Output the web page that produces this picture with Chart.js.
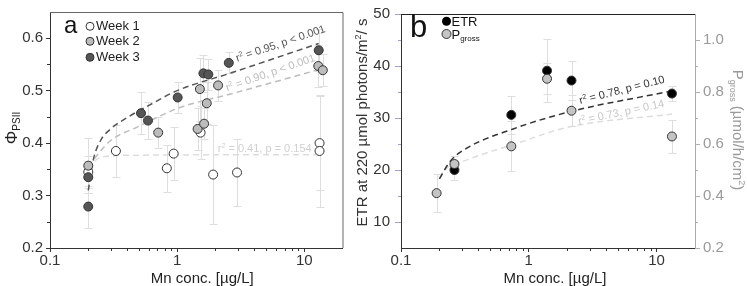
<!DOCTYPE html>
<html>
<head>
<meta charset="utf-8">
<script src="https://cdn.jsdelivr.net/npm/chart.js@4"></script>
<style>
  html, body { margin: 0; padding: 0; background: #fff; }
  #wrap { position: relative; width: 747px; height: 286px; }
  #cA { position: absolute; left: 0; top: 0; }
  #cB { position: absolute; left: 348px; top: 0; }
</style>
</head>
<body>
<div id="wrap">
  <canvas id="cA" width="348" height="286" style="width:348px;height:286px"></canvas>
  <canvas id="cB" width="399" height="286" style="width:399px;height:286px"></canvas>
</div>
<script>
const FONT = "'Liberation Sans', Arial, sans-serif";

// ---------- shared x axis (Mn conc., log) ----------
const mnTicks = [0.1, 1, 10];
const mnMinor = [0.2, 0.3, 0.4, 0.5, 0.6, 0.7, 0.8, 0.9, 2, 3, 4, 5, 6, 7, 8, 9];

// ---------- panel a : PSII yield ----------
const aYTicks = [0.2, 0.3, 0.4, 0.5, 0.6];
const aYMinor = [0.25, 0.35, 0.45, 0.55];

const week1Mn  = [0.2, 0.33, 0.83, 0.94, 1.53, 1.92, 2.96, 13.2, 13.2];
const week1Y   = [0.345, 0.385, 0.352, 0.38, 0.42, 0.34, 0.344, 0.40, 0.385];
const week1Err = [0.03, 0.05, 0.045, 0.05, 0.05, 0.095, 0.063, 0.089, 0.106];

const week2Mn  = [0.2, 0.71, 1.45, 1.51, 1.63, 1.71, 2.10, 12.9, 14.0];
const week2Y   = [0.357, 0.42, 0.427, 0.503, 0.437, 0.476, 0.51, 0.547, 0.539];
const week2Err = [0.053, 0.03, 0.04, 0.06, 0.03, 0.04, 0.03, 0.04, 0.03];

const week3Mn  = [0.2, 0.2, 0.52, 0.59, 1.01, 1.61, 1.76, 2.55, 13.0];
const week3Y   = [0.335, 0.279, 0.457, 0.443, 0.487, 0.533, 0.531, 0.553, 0.577];
const week3Err = [0.03, 0.04, 0.04, 0.035, 0.03, 0.035, 0.03, 0.02, 0.04];

// fitted curves
const fit1Mn = [0.2, 0.23, 0.28, 0.5, 13];
const fit1Y  = [0.35, 0.368, 0.375, 0.377, 0.378];
const fit2Mn = [0.2, 0.25, 0.3, 0.5, 1.03, 2.67, 13];
const fit2Y  = [0.355, 0.385, 0.405, 0.432, 0.467, 0.494, 0.54];
const fit3Mn = [0.2, 0.22, 0.25, 0.3, 0.4, 0.6, 1.0, 2.67, 13];
const fit3Y  = [0.31, 0.37, 0.405, 0.427, 0.448, 0.472, 0.50, 0.534, 0.59];

// ---------- panel b : ETR and Pgross ----------
const bYTicks  = [10, 20, 30, 40, 50];
const bYMinor  = [15, 25, 35, 45];
const bY2Ticks = [0.2, 0.4, 0.6, 0.8, 1.0];
const bY2Minor = [0.3, 0.5, 0.7, 0.9];

const etrMn  = [0.262, 0.73, 1.39, 2.16, 13.2];
const etrY   = [20.0, 30.6, 39.1, 37.2, 34.7];
const etrErr = [2.0, 3.6, 6.1, 3.7, 1.4];

const pgMn  = [0.19, 0.262, 0.73, 1.39, 2.16, 13.2];
const pgY   = [0.411, 0.523, 0.591, 0.851, 0.728, 0.629];
const pgErr = [0.072, 0.03, 0.096, 0.06, 0.06, 0.065];

const etrFitMn = [0.2, 0.243, 0.327, 0.755, 2.09, 13.2];
const etrFitY  = [18.3, 21.7, 24.2, 27.9, 31.2, 35.2];
const pgFitMn  = [0.2, 0.215, 0.348, 0.755, 2.09, 13.2];
const pgFitY   = [0.47, 0.495, 0.543, 0.598, 0.666, 0.715];

function pts(xs, ys) {
  return xs.map((x, i) => ({ x: x, y: ys[i] }));
}

// draws text made of pieces [text, size, dy], centred on x,y, rotated
function richText(ctx, parts, x, y, angle, color) {
  ctx.save();
  ctx.translate(x, y);
  ctx.rotate(angle * Math.PI / 180);
  ctx.fillStyle = color;
  ctx.textBaseline = 'alphabetic';
  ctx.textAlign = 'left';
  let w = 0;
  parts.forEach(p => { ctx.font = p[1] + 'px ' + FONT; w += ctx.measureText(p[0]).width; });
  let cx = -w / 2;
  parts.forEach(p => {
    ctx.font = p[1] + 'px ' + FONT;
    ctx.fillText(p[0], cx, p[2]);
    cx += ctx.measureText(p[0]).width;
  });
  ctx.restore();
}

function r2Parts(rest, size) {
  return [['r', size, 4], ['2', 7, 0], [rest, size, 4]];
}

// error bars under the points
const errorBars = {
  id: 'errorBars',
  beforeDatasetsDraw(chart) {
    const ctx = chart.ctx;
    ctx.save();
    ctx.strokeStyle = '#dedede';
    ctx.lineWidth = 1;
    chart.data.datasets.forEach(ds => {
      if (!ds.errors) return;
      const xs = chart.scales.x;
      const ys = chart.scales[ds.yAxisID || 'y'];
      ds.data.forEach((p, j) => {
        const e = ds.errors[j];
        const px = Math.round(xs.getPixelForValue(p.x)) + 0.5;
        const y1 = Math.round(ys.getPixelForValue(p.y + e)) + 0.5;
        const y2 = Math.round(ys.getPixelForValue(p.y - e)) + 0.5;
        ctx.beginPath();
        ctx.moveTo(px, y1); ctx.lineTo(px, y2);
        ctx.moveTo(px - 4, y1); ctx.lineTo(px + 4, y1);
        ctx.moveTo(px - 4, y2); ctx.lineTo(px + 4, y2);
        ctx.stroke();
      });
    });
    ctx.restore();
  }
};

function minorTicks(ctx, scale, values, side, len, color) {
  ctx.save();
  ctx.strokeStyle = color;
  ctx.lineWidth = 1;
  ctx.beginPath();
  values.forEach(v => {
    const p = Math.round(scale.getPixelForValue(v)) + 0.5;
    if (side === 'bottom') { ctx.moveTo(p, scale.top); ctx.lineTo(p, scale.top + len); }
    if (side === 'left')   { ctx.moveTo(scale.right, p); ctx.lineTo(scale.right - len, p); }
    if (side === 'right')  { ctx.moveTo(scale.left, p); ctx.lineTo(scale.left + len, p); }
  });
  ctx.stroke();
  ctx.restore();
}

function logX(extra) {
  return Object.assign({
    type: 'logarithmic',
    min: 0.1,
    max: 20,
    afterBuildTicks: s => { s.ticks = mnTicks.map(v => ({ value: v })); },
    afterFit: s => { s.height = 38; },
    ticks: {
      callback: v => String(v),
      font: { family: FONT, size: 15 },
      color: '#333',
      padding: 0,
      maxRotation: 0,
      autoSkip: false
    },
    grid: { drawOnChartArea: false, tickLength: 4, color: '#333' },
    border: { color: '#333' }
  }, extra || {});
}

function fitLine(xs, ys, color, axis) {
  return {
    type: 'line',
    data: pts(xs, ys),
    yAxisID: axis || 'y',
    borderColor: color,
    borderWidth: 1.5,
    borderDash: [6, 4],
    pointRadius: 0,
    fill: false,
    cubicInterpolationMode: 'monotone',
    order: 10
  };
}

function dots(xs, ys, errs, fill, order, axis) {
  return {
    data: pts(xs, ys),
    errors: errs,
    yAxisID: axis || 'y',
    backgroundColor: fill,
    borderColor: '#333',
    borderWidth: 1,
    pointRadius: 4.5,
    order: order
  };
}

// ================= PANEL A =================
const decoA = {
  id: 'decoA',
  afterDraw(chart) {
    const ctx = chart.ctx;
    const a = chart.chartArea;
    minorTicks(ctx, chart.scales.x, mnMinor, 'bottom', 3, '#333');
    minorTicks(ctx, chart.scales.y, aYMinor, 'left', 3, '#333');
    // box
    ctx.save();
    ctx.strokeStyle = '#666';
    ctx.lineWidth = 1;
    ctx.beginPath();
    ctx.moveTo(a.left, a.top + 0.5); ctx.lineTo(a.right + 0.5, a.top + 0.5);
    ctx.lineTo(a.right + 0.5, a.bottom);
    ctx.stroke();
    ctx.restore();

    // legend
    const names = ['Week 1', 'Week 2', 'Week 3'];
    const fills = ['#ffffff', '#bcbcbc', '#555555'];
    const rows = [26.3, 41.3, 57.3];
    ctx.save();
    names.forEach((n, i) => {
      ctx.beginPath();
      ctx.arc(90, rows[i], 4, 0, Math.PI * 2);
      ctx.fillStyle = fills[i];
      ctx.fill();
      ctx.strokeStyle = '#333';
      ctx.lineWidth = 1;
      ctx.stroke();
      ctx.fillStyle = '#222';
      ctx.font = '13px ' + FONT;
      ctx.textBaseline = 'middle';
      ctx.fillText(n, 96, rows[i] + 0.5);
    });
    ctx.font = '24px ' + FONT;
    ctx.textBaseline = 'alphabetic';
    ctx.fillStyle = '#111';
    ctx.fillText('a', 64, 33);
    ctx.restore();

    // axis titles
    richText(ctx, [['Φ', 17, 6], ['PSII', 10, 9]], 11, 128, -90, '#222');
    richText(ctx, [['Mn conc. [µg/L]', 15, 0]], (a.left + a.right) / 2 + 6, 283, 0, '#222');
  },
  afterDatasetsDraw(chart) {
    const ctx = chart.ctx;
    const xs = chart.scales.x, ys = chart.scales.y;
    richText(ctx, r2Parts(' = 0.95, p < 0.001', 11), xs.getPixelForValue(6.5), ys.getPixelForValue(0.591), -18.7, '#555');
    richText(ctx, r2Parts(' = 0.90, p < 0.001', 11), xs.getPixelForValue(5.4), ys.getPixelForValue(0.535), -19, '#bdbdbd');
    richText(ctx, r2Parts(' = 0.41, p = 0.154', 11), xs.getPixelForValue(4.89), ys.getPixelForValue(0.391), 0, '#d0d0d0');
  }
};

new Chart(document.getElementById('cA'), {
  type: 'scatter',
  data: {
    datasets: [
      dots(week3Mn, week3Y, week3Err, '#555555', 1),
      dots(week2Mn, week2Y, week2Err, '#bcbcbc', 2),
      dots(week1Mn, week1Y, week1Err, '#ffffff', 3),
      fitLine(fit3Mn, fit3Y, '#555555'),
      fitLine(fit2Mn, fit2Y, '#bdbdbd'),
      fitLine(fit1Mn, fit1Y, '#dddddd')
    ]
  },
  options: {
    responsive: false,
    animation: false,
    layout: { padding: { top: 5, right: 3, left: 0, bottom: 0 } },
    plugins: { legend: { display: false }, tooltip: { enabled: false } },
    scales: {
      x: logX(),
      y: {
        min: 0.2,
        max: 0.65,
        afterBuildTicks: s => { s.ticks = aYTicks.map(v => ({ value: v })); },
        afterFit: s => { s.width = 50; },
        ticks: {
          callback: v => v.toFixed(1),
          font: { family: FONT, size: 15 },
          color: '#333',
          padding: 3
        },
        grid: { drawOnChartArea: false, tickLength: 4, color: '#333' },
        border: { color: '#333' }
      }
    }
  },
  plugins: [errorBars, decoA]
});

// ================= PANEL B =================
const decoB = {
  id: 'decoB',
  afterDraw(chart) {
    const ctx = chart.ctx;
    const a = chart.chartArea;
    minorTicks(ctx, chart.scales.x, mnMinor, 'bottom', 3, '#333');
    minorTicks(ctx, chart.scales.y, bYMinor, 'left', 3, '#a59fcf');
    minorTicks(ctx, chart.scales.y2, bY2Minor, 'right', 3, '#b0b0b0');
    ctx.save();
    ctx.strokeStyle = '#222';
    ctx.lineWidth = 1;
    ctx.beginPath();
    ctx.moveTo(a.left, a.top + 0.5); ctx.lineTo(a.right, a.top + 0.5);
    ctx.stroke();

    // legend
    const L = a.left;
    ctx.font = '31px ' + FONT;
    ctx.fillStyle = '#111';
    ctx.textBaseline = 'alphabetic';
    ctx.fillText('b', L + 9, 37.3);
    ctx.beginPath();
    ctx.arc(L + 45.5, 21.3, 4.5, 0, Math.PI * 2);
    ctx.fillStyle = '#000';
    ctx.fill();
    ctx.beginPath();
    ctx.arc(L + 45.5, 34, 4.5, 0, Math.PI * 2);
    ctx.fillStyle = '#c4c4c4';
    ctx.fill();
    ctx.strokeStyle = '#333';
    ctx.stroke();
    ctx.fillStyle = '#111';
    ctx.font = '13px ' + FONT;
    ctx.textBaseline = 'alphabetic';
    ctx.fillText('ETR', L + 50.5, 26);
    ctx.fillText('P', L + 50.5, 39);
    const pw = ctx.measureText('P').width;
    ctx.font = '8px ' + FONT;
    ctx.fillText('gross', L + 50.5 + pw, 41);
    ctx.restore();

    // axis titles
    richText(ctx, [['ETR at 220 µmol photons/m', 15, 5], ['2', 9, -1], ['/ s', 15, 5]], 13.5, 122.5, -90, '#333');
    richText(ctx, [['P', 15, 5], ['gross', 9, 8], [' (µmol/h/cm', 15, 5], ['2', 9, -1], [')', 15, 5]], 390, 130, 90, '#9a9a9a');
    richText(ctx, [['Mn conc. [µg/L]', 15, 0]], (a.left + a.right) / 2 + 7, 283, 0, '#222');
  },
  afterDatasetsDraw(chart) {
    const ctx = chart.ctx;
    const xs = chart.scales.x, ys = chart.scales.y;
    richText(ctx, r2Parts(' = 0.78, p = 0.10', 11), xs.getPixelForValue(5.35), ys.getPixelForValue(35.5), -14.3, '#333');
    richText(ctx, r2Parts(' = 0.73, p = 0.14', 11), xs.getPixelForValue(5.27), ys.getPixelForValue(31.2), -11.9, '#c8c8c8');
  }
};

new Chart(document.getElementById('cB'), {
  type: 'scatter',
  data: {
    datasets: [
      dots(pgMn, pgY, pgErr, '#c4c4c4', 1, 'y2'),
      dots(etrMn, etrY, etrErr, '#000000', 2),
      fitLine(etrFitMn, etrFitY, '#333333'),
      fitLine(pgFitMn, pgFitY, '#dddddd', 'y2')
    ]
  },
  options: {
    responsive: false,
    animation: false,
    layout: { padding: { top: 8, right: 0, left: 0, bottom: 0 } },
    plugins: { legend: { display: false }, tooltip: { enabled: false } },
    scales: {
      x: logX(),
      y: {
        position: 'left',
        min: 5,
        max: 50,
        afterBuildTicks: s => { s.ticks = bYTicks.map(v => ({ value: v })); },
        afterFit: s => { s.width = 53; },
        ticks: {
          callback: v => String(v),
          font: { family: FONT, size: 15 },
          color: '#333',
          padding: 5
        },
        grid: { drawOnChartArea: false, tickLength: 6, color: '#a59fcf' },
        border: { color: '#333' }
      },
      y2: {
        position: 'right',
        min: 0.2,
        max: 1.1,
        afterBuildTicks: s => { s.ticks = bY2Ticks.map(v => ({ value: v })); },
        afterFit: s => { s.width = 52; },
        ticks: {
          callback: v => v.toFixed(1),
          font: { family: FONT, size: 15 },
          color: '#9a9a9a',
          padding: 3
        },
        grid: { drawOnChartArea: false, tickLength: 5, color: '#b0b0b0' },
        border: { color: '#aaaaaa' }
      }
    }
  },
  plugins: [errorBars, decoB]
});
</script>
</body>
</html>
